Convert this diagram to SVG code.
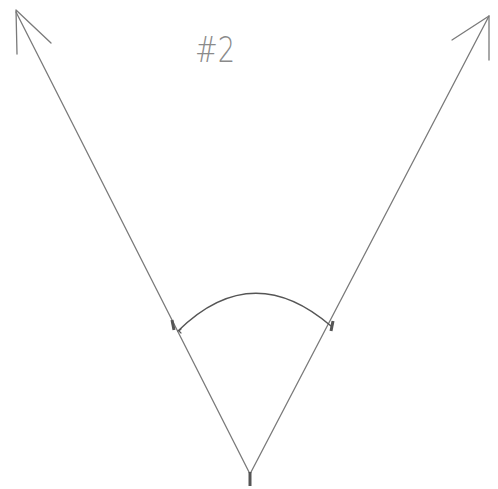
<svg xmlns="http://www.w3.org/2000/svg" width="498" height="489" viewBox="0 0 498 489">
<style>
.ln{stroke:#7a7a7a;stroke-width:1.3;fill:none;stroke-linecap:round}
.tk{stroke:#555;stroke-width:3;fill:none}
.lbl{font-family:"DejaVu Sans","Liberation Sans",sans-serif;font-weight:200;font-size:36px;fill:#8a8a8a}
</style>
<rect width="498" height="489" fill="#fff"/>
<g id="connectors">
<path class="ln" d="M250,474 L16,12"/>
<path class="ln" d="M16,10 L17,54 M16,10 L51,43"/>
<path class="ln" d="M250,474 L489,16"/>
<path class="ln" d="M489,16 L489,60 M489,16 L452,40"/>
<path class="ln" style="stroke:#555;stroke-width:1.4" d="M178,331 Q252,258 331,326"/>
<path class="ln" style="stroke:#555" d="M181,329 Q178,331 181,333"/>
</g>
<g id="ticks">
<path class="tk" d="M172,320 L174,330"/>
<path class="tk" d="M333,321 L331,331"/>
<path class="tk" d="M250,472 L250,486"/>
</g>
<g id="label">
<text class="lbl" x="195" y="62" textLength="40" lengthAdjust="spacingAndGlyphs">#2</text>
</g>
</svg>
